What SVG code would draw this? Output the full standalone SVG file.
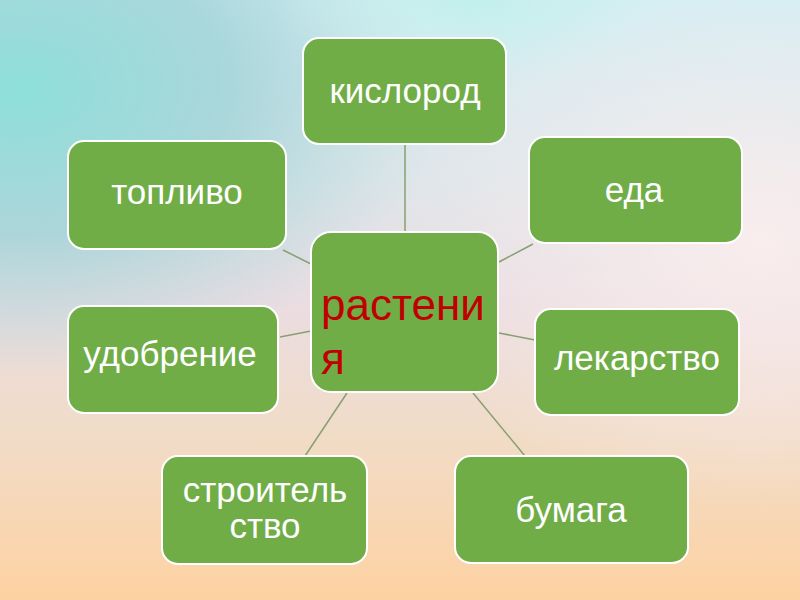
<svg xmlns="http://www.w3.org/2000/svg" width="800" height="600" viewBox="0 0 800 600">
  <defs>
    <linearGradient id="bg" x1="0" y1="0" x2="0" y2="1">
      <stop offset="0" stop-color="#d4eef4"/>
      <stop offset="0.3" stop-color="#dfe6ea"/>
      <stop offset="0.5" stop-color="#eadde2"/>
      <stop offset="0.72" stop-color="#f1dcc8"/>
      <stop offset="1" stop-color="#fdd2a2"/>
    </linearGradient>
    <radialGradient id="cyan" gradientUnits="userSpaceOnUse" cx="20" cy="90" r="420" gradientTransform="matrix(1 0 0 0.68 0 29)">
      <stop offset="0" stop-color="#8ee0da" stop-opacity="1"/>
      <stop offset="0.5" stop-color="#9ed2d6" stop-opacity="0.8"/>
      <stop offset="1" stop-color="#a8d4d8" stop-opacity="0"/>
    </radialGradient>
    <radialGradient id="topc" gradientUnits="userSpaceOnUse" cx="470" cy="0" r="200" gradientTransform="matrix(1 0 0 0.4 0 0)">
      <stop offset="0" stop-color="#bff0ea" stop-opacity="0.9"/>
      <stop offset="1" stop-color="#c8f0ec" stop-opacity="0"/>
    </radialGradient>
    <radialGradient id="rwhite" cx="0.95" cy="0.4" r="0.45">
      <stop offset="0" stop-color="#fbeeee" stop-opacity="0.9"/>
      <stop offset="1" stop-color="#fbeeee" stop-opacity="0"/>
    </radialGradient>
    <style>
      .box { fill: #70ad47; stroke: #ffffff; stroke-width: 2; }
      .lbl { fill: #ffffff; font-family: "Liberation Sans", Arial, sans-serif; font-size: 35px; text-anchor: middle; }
      .ctr { fill: #c00000; font-family: "Liberation Sans", Arial, sans-serif; font-size: 44px; }
      .conn line { stroke: #86a072; stroke-width: 1.5; }
    </style>
  </defs>
  <rect x="0" y="0" width="800" height="600" fill="url(#bg)"/>
  <rect x="0" y="0" width="800" height="600" fill="url(#cyan)"/>
  <rect x="0" y="0" width="800" height="600" fill="url(#topc)"/>
  <rect x="0" y="0" width="800" height="600" fill="url(#rwhite)"/>

  <g id="connectors" class="conn">
    <line x1="405" y1="144" x2="405" y2="232"/>
    <line x1="283" y1="250" x2="311" y2="264"/>
    <line x1="533" y1="244" x2="499" y2="262"/>
    <line x1="280" y1="337" x2="311" y2="331"/>
    <line x1="499" y1="333" x2="535" y2="340"/>
    <line x1="347" y1="393" x2="305" y2="456"/>
    <line x1="473" y1="393" x2="525" y2="456"/>
  </g>

  <g id="node-center">
    <rect class="box" x="311" y="232" width="187" height="160" rx="20"/>
    <text class="ctr" x="321" y="320">растени</text>
    <text class="ctr" x="321" y="374">я</text>
  </g>
  <g id="node-kislorod">
    <rect class="box" x="303" y="38" width="203" height="106" rx="16"/>
    <text class="lbl" x="405" y="103">кислород</text>
  </g>
  <g id="node-toplivo">
    <rect class="box" x="68" y="141" width="218" height="108" rx="16"/>
    <text class="lbl" x="177" y="204">топливо</text>
  </g>
  <g id="node-eda">
    <rect class="box" x="529" y="137" width="213" height="106" rx="16"/>
    <text class="lbl" x="634" y="202">еда</text>
  </g>
  <g id="node-udobrenie">
    <rect class="box" x="68" y="306" width="210" height="107" rx="16"/>
    <text class="lbl" x="170" y="366">удобрение</text>
  </g>
  <g id="node-lekarstvo">
    <rect class="box" x="535" y="309" width="204" height="106" rx="16"/>
    <text class="lbl" x="637" y="370">лекарство</text>
  </g>
  <g id="node-stroitelstvo">
    <rect class="box" x="162" y="456" width="205" height="108" rx="16"/>
    <text class="lbl" x="265" y="502">строитель</text>
    <text class="lbl" x="265" y="538">ство</text>
  </g>
  <g id="node-bumaga">
    <rect class="box" x="455" y="456" width="233" height="107" rx="16"/>
    <text class="lbl" x="571" y="522">бумага</text>
  </g>
</svg>
